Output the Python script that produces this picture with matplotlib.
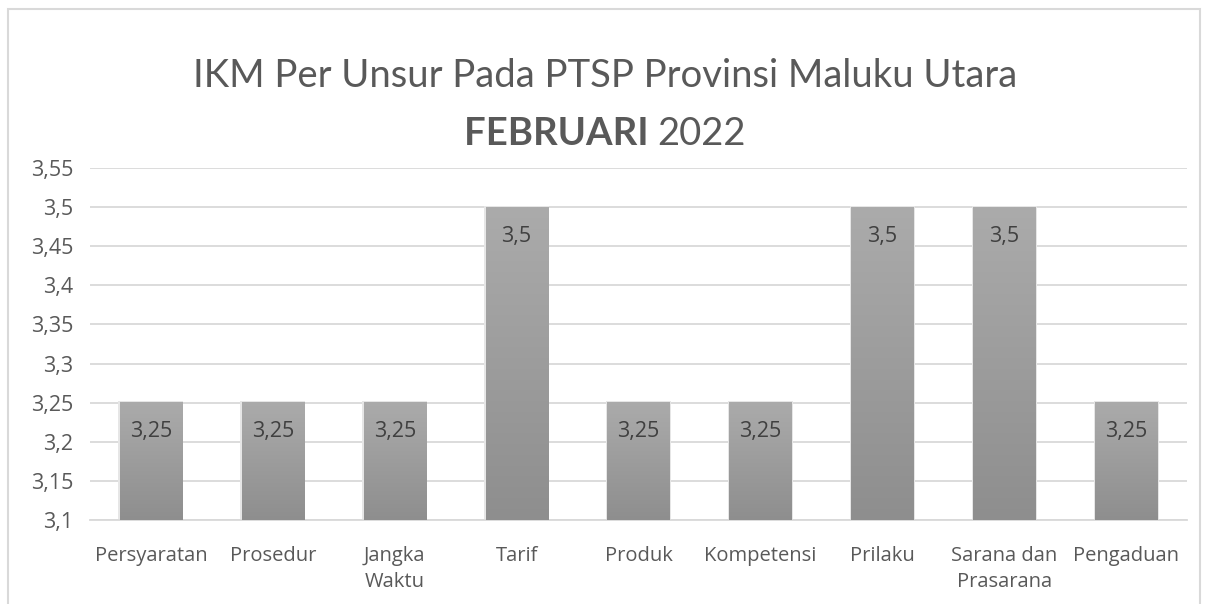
import matplotlib.pyplot as plt
import matplotlib.patches as mpatches
from matplotlib.colors import LinearSegmentedColormap
import numpy as np

plt.rcParams['font.family'] = ['Open Sans', 'DejaVu Sans']

categories = ["Persyaratan", "Prosedur", "Jangka\nWaktu", "Tarif", "Produk",
              "Kompetensi", "Prilaku", "Sarana dan\nPrasarana", "Pengaduan"]
values = [3.25, 3.25, 3.25, 3.5, 3.25, 3.25, 3.5, 3.5, 3.25]
value_labels = ["3,25", "3,25", "3,25", "3,5", "3,25", "3,25", "3,5", "3,5", "3,25"]
yticks = [3.1, 3.15, 3.2, 3.25, 3.3, 3.35, 3.4, 3.45, 3.5, 3.55]
ytick_labels = ["3,1", "3,15", "3,2", "3,25", "3,3", "3,35", "3,4", "3,45", "3,5", "3,55"]

fig = plt.figure(figsize=(12.1, 6.04), dpi=100)
ax = fig.add_axes([90/1210, 1 - 520/604, 1097/1210, 352/604])

# chart border
fig.patches.append(mpatches.Rectangle((8/1210, -0.1), 1192/1210, 1.1 - 9/604,
                                      transform=fig.transFigure, fill=False,
                                      edgecolor="#d9d9d9", linewidth=1.5))

x = np.arange(len(categories))
width = 0.51
bars = ax.bar(x, [v - 3.1 for v in values], width, bottom=3.1, color="none", zorder=3)

grad = np.linspace(0, 1, 256).reshape(-1, 1)
cmap = LinearSegmentedColormap.from_list("g", ["#8e8e8e", "#ababab"])
for b in bars:
    x0, y0 = b.get_x(), b.get_y()
    w, h = b.get_width(), b.get_height()
    # soft shadow
    ax.add_patch(mpatches.Rectangle((x0 - 0.012, y0), w + 0.024, h + 0.002,
                                    color="#e6e6e6", zorder=2, linewidth=0))
    ax.imshow(grad, extent=(x0, x0 + w, y0, y0 + h), origin="lower",
              cmap=cmap, aspect="auto", zorder=3)

for xi, v, lab in zip(x, values, value_labels):
    ax.text(xi, v - 0.037, lab, ha="center", va="center", fontsize=15.5,
            color="#404040", zorder=4)

ax.set_xlim(-0.5, len(categories) - 0.5)
ax.set_ylim(3.1, 3.55)
ax.set_yticks(yticks)
ax.set_yticklabels(ytick_labels, fontsize=15.5, color="#595959")
ax.set_xticks(x)
ax.set_xticklabels(categories, fontsize=14.5, color="#595959", linespacing=1.4)
ax.tick_params(axis="y", length=0, pad=12)
ax.tick_params(axis="x", length=0, pad=19)
ax.grid(axis="y", color="#d9d9d9", linewidth=1.3, zorder=0)
ax.set_axisbelow(True)
for s in ["top", "right", "left"]:
    ax.spines[s].set_visible(False)
ax.spines["bottom"].set_color("#d9d9d9")
ax.spines["bottom"].set_linewidth(1.3)

fig.text(0.5, 1 - 76/604, "IKM Per Unsur Pada PTSP Provinsi Maluku Utara",
         ha="center", va="center", fontsize=27.5, color="#595959",
         family=["Lato", "DejaVu Sans"])
t1 = fig.text(0.5, 1 - 134/604, "FEBRUARI ", ha="right", va="center",
              fontsize=27.5, color="#595959", fontweight="bold",
              family=["Lato", "DejaVu Sans"])
t2 = fig.text(0.5, 1 - 134/604, "2022", ha="left", va="center",
              fontsize=27.5, color="#595959", family=["Lato", "DejaVu Sans"])

# center the two-part second title line
fig.canvas.draw()
r = fig.canvas.get_renderer()
w1 = t1.get_window_extent(r).width
w2 = t2.get_window_extent(r).width
cx = fig.bbox.width / 2 + (w1 - w2) / 2
t1.set_x(cx / fig.bbox.width)
t2.set_x(cx / fig.bbox.width)

fig.savefig("out.png", dpi=100)
